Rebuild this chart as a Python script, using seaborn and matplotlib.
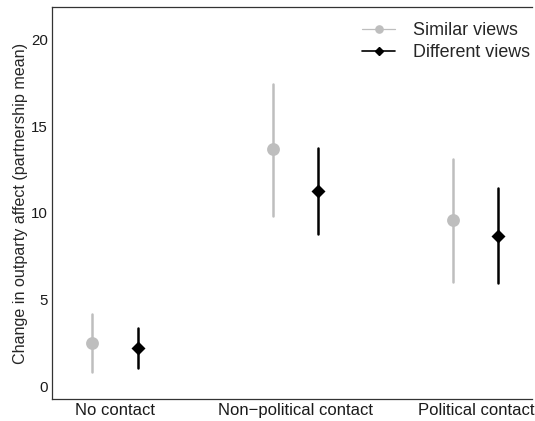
import pandas as pd
import matplotlib
matplotlib.use("Agg")
import matplotlib.pyplot as plt
from matplotlib.lines import Line2D
import seaborn as sns

# values
contacts = ["No contact", "Non\u2212political contact", "Political contact"]
groups = ["Similar views", "Different views"]

similar_mean = [2.48, 13.65, 9.57]
similar_lo = [0.80, 9.80, 6.02]
similar_hi = [4.15, 17.45, 13.10]

different_mean = [2.19, 11.25, 8.67]
different_lo = [1.04, 8.77, 5.96]
different_hi = [3.34, 13.73, 11.40]

gray = "#BEBEBE"
black = "#000000"

# long table: lower bound, estimate, upper bound per cell
rows = []
for g, mean, lo, hi in [
    (groups[0], similar_mean, similar_lo, similar_hi),
    (groups[1], different_mean, different_lo, different_hi),
]:
    for c, m, l, h in zip(contacts, mean, lo, hi):
        for v in (l, m, h):
            rows.append({"contact": c, "views": g, "value": v})
df = pd.DataFrame(rows)

sns.set_style("white")
plt.rcParams["font.family"] = ["Liberation Sans", "DejaVu Sans"]

fig = plt.figure(figsize=(5.35, 4.21), dpi=100)
ax = fig.add_axes([0.097, 0.052, 0.897, 0.931])

sns.pointplot(
    data=df, x="contact", y="value", hue="views",
    order=contacts, hue_order=groups,
    estimator="median", errorbar=lambda v: (v.min(), v.max()),
    dodge=0.25, palette=[gray, black], markers=["o", "D"],
    linestyles="none", markersize=5.5, err_kws={"linewidth": 1.8},
    legend=False, ax=ax,
)
# diamonds look larger than circles at equal size
for line in ax.lines:
    if line.get_marker() == "D":
        line.set_markersize(4.6)
    elif line.get_marker() == "o":
        line.set_markersize(7.2)

ax.set_xlim(-0.35, 2.31)
ax.set_ylim(-0.75, 21.86)
ax.set_yticks([0, 5, 10, 15, 20])
ax.set_xlabel("")
ax.set_ylabel("Change in outparty affect (partnership mean)", fontsize=11.6, labelpad=2)
ax.tick_params(axis="both", length=0, colors="#1a1a1a", pad=3)
ax.tick_params(axis="x", labelsize=12)
ax.tick_params(axis="y", labelsize=10.8)

for side in ["left", "bottom", "top"]:
    ax.spines[side].set_visible(True)
    ax.spines[side].set_color("#333333")
    ax.spines[side].set_linewidth(0.9)
ax.spines["right"].set_visible(False)

handles = [
    Line2D([], [], color=gray, marker="o", markersize=5.2, linewidth=0.9),
    Line2D([], [], color=black, marker="D", markersize=3.8, linewidth=1.2),
]
ax.legend(handles, groups, loc="upper right", frameon=False, fontsize=12.9,
          handlelength=1.85, handletextpad=1.0, labelspacing=0.3,
          borderaxespad=0.1, bbox_to_anchor=(1.015, 0.985))

plt.savefig("out.png", dpi=100)
plt.close()
